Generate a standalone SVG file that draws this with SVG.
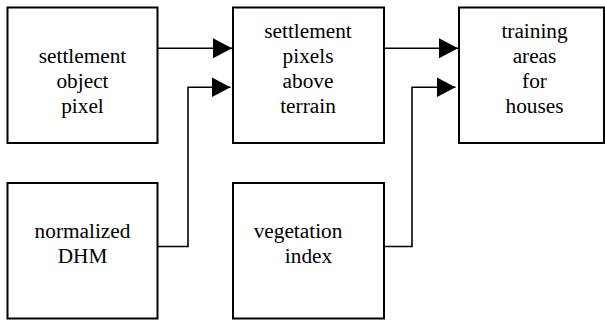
<svg xmlns="http://www.w3.org/2000/svg" width="605" height="320" viewBox="0 0 605 320">
<style>
rect.box{fill:#fff;stroke:#000;stroke-width:2}
text{font-size:21.3px;fill:#000;text-anchor:middle}
.conn{fill:none;stroke:#000;stroke-width:1.6}
</style>
<defs>
<marker id="ah" markerUnits="userSpaceOnUse" markerWidth="19" markerHeight="20" refX="19" refY="10" orient="auto" viewBox="0 0 19 20">
<path d="M0,0 L19,10 L0,20 Z" fill="#000"/>
</marker>
</defs>
<g font-family="'Liberation Serif', 'Times New Roman', 'DejaVu Serif', serif">
<g id="n1"><rect class="box" x="7.5" y="7.5" width="150" height="135.5"/>
<text x="82.5" y="63">settlement</text><text x="82.5" y="88">object</text><text x="82.5" y="113">pixel</text></g>
<g id="n2"><rect class="box" x="233" y="7.5" width="151" height="135.5"/>
<text x="308" y="38">settlement</text><text x="308" y="63">pixels</text><text x="308" y="88">above</text><text x="308" y="113">terrain</text></g>
<g id="n3"><rect class="box" x="459" y="7.5" width="145" height="135.5"/>
<text x="534.5" y="38">training</text><text x="534.5" y="63">areas</text><text x="534.5" y="88">for</text><text x="534.5" y="113">houses</text></g>
<g id="n4"><rect class="box" x="7.5" y="183" width="150" height="135.5"/>
<text x="82.5" y="238">normalized</text><text x="82.5" y="263">DHM</text></g>
<g id="n5"><rect class="box" x="233" y="183" width="151" height="135.5"/>
<text x="298" y="238">vegetation</text><text x="308.5" y="263">index</text></g>
</g>
<g id="connectors">
<path class="conn" d="M158,48.3 H232" marker-end="url(#ah)"/>
<path class="conn" d="M158,246.5 H188 V87.3 H230.5" marker-end="url(#ah)"/>
<path class="conn" d="M384,48.3 H458" marker-end="url(#ah)"/>
<path class="conn" d="M384,246.5 H412 V87.3 H455.5" marker-end="url(#ah)"/>
</g>
</svg>
